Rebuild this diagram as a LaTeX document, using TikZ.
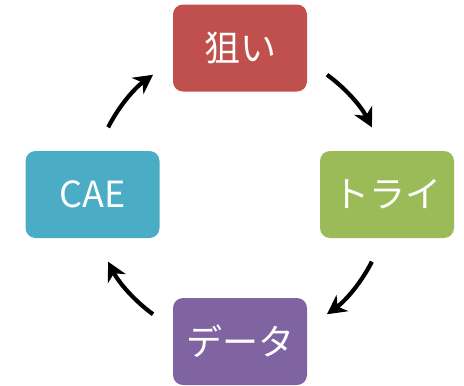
\documentclass[tikz,border=0pt]{standalone}
\usepackage{fontspec}
\setmainfont{Noto Sans CJK JP}
\usetikzlibrary{arrows.meta}
\definecolor{cRed}{HTML}{C0504D}
\definecolor{cGreen}{HTML}{9BBB59}
\definecolor{cPurple}{HTML}{8064A2}
\definecolor{cCyan}{HTML}{4BACC6}
\tikzset{
  stepbox/.style={rounded corners=10pt, minimum width=134pt, minimum height=87pt,
    inner sep=0pt, text=white, font=\fontsize{36}{42}\selectfont},
  cyc/.style={line width=4.2pt, -{Stealth[length=19pt,width=20pt,inset=6pt]}}
}
\begin{document}
\begin{tikzpicture}[x=1pt,y=1pt]
\useasboundingbox (0,0) rectangle (464,-386);
\node[stepbox, fill=cRed] (aim) at (240,-48) {狙い};
\node[stepbox, fill=cGreen] (try) at (387,-194.5) {トライ};
\node[stepbox, fill=cPurple] (data) at (240,-341.5) {データ};
\node[stepbox, fill=cCyan] (cae) at (92.5,-194.5) {CAE};
\coordinate (c) at (240,-194.5);
\draw[cyc] ([shift={(153:148)}]c) arc[start angle=153, end angle=126, radius=148];
\draw[cyc] ([shift={(54:148)}]c) arc[start angle=54, end angle=27, radius=148];
\draw[cyc] ([shift={(-27:148)}]c) arc[start angle=-27, end angle=-54, radius=148];
\draw[cyc] ([shift={(-126:148)}]c) arc[start angle=-126, end angle=-153, radius=148];
\end{tikzpicture}
\end{document}
